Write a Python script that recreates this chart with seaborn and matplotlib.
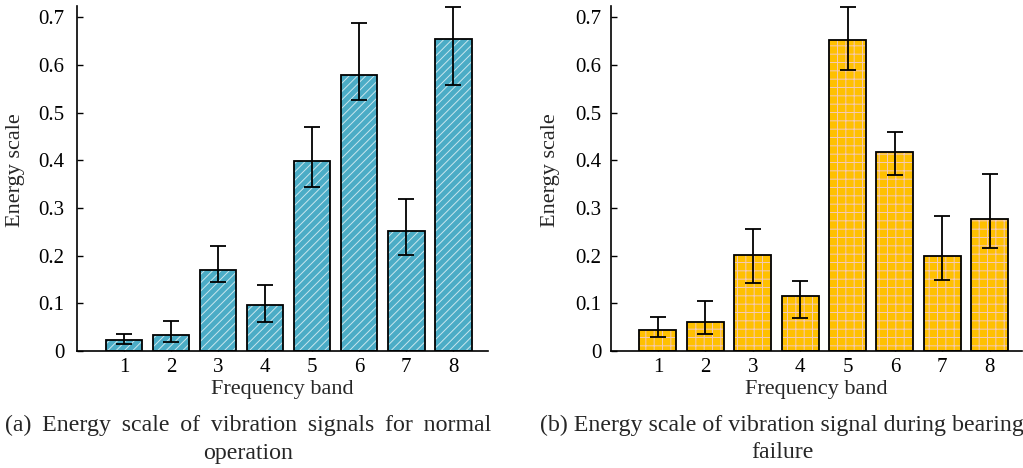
import numpy as np
import pandas as pd
import matplotlib
matplotlib.use("Agg")
import matplotlib.pyplot as plt
import seaborn as sns

bands = ["1", "2", "3", "4", "5", "6", "7", "8"]

normal_vals = [0.024, 0.034, 0.170, 0.097, 0.399, 0.579, 0.251, 0.654]
normal_lo = [0.014, 0.018, 0.144, 0.061, 0.344, 0.526, 0.201, 0.558]
normal_hi = [0.035, 0.062, 0.220, 0.138, 0.471, 0.689, 0.318, 0.722]

fault_vals = [0.044, 0.061, 0.202, 0.116, 0.652, 0.417, 0.199, 0.277]
fault_lo = [0.030, 0.035, 0.142, 0.070, 0.590, 0.369, 0.150, 0.217]
fault_hi = [0.072, 0.104, 0.255, 0.147, 0.722, 0.459, 0.284, 0.372]

ytick_vals = [0, 0.1, 0.2, 0.3, 0.4, 0.5, 0.6, 0.7]
ytick_labels = ["0", "0.1", "0.2", "0.3", "0.4", "0.5", "0.6", "0.7"]

captions = [
    ("(a) Energy scale of vibration signals for normal", "operation"),
    ("(b) Energy scale of vibration signal during bearing", "failure"),
]

sns.set_style("ticks")
plt.rcParams["font.family"] = ["Liberation Serif", "DejaVu Serif"]
plt.rcParams["hatch.linewidth"] = 0.7

fig = plt.figure(figsize=(10.23, 4.68), dpi=100)
W, H = 1023, 468
ax1 = fig.add_axes([77 / W, 1 - 351 / H, 411 / W, 345 / H])
ax2 = fig.add_axes([611 / W, 1 - 351 / H, 411 / W, 345 / H])


def draw(ax, vals, lo, hi, color, hatch, hatchcolor, xlim, ypad, ylab_x):
    df = pd.DataFrame({"band": bands, "val": vals})
    sns.barplot(data=df, x="band", y="val", ax=ax, color=color, width=0.78,
                saturation=1, edgecolor=hatchcolor, linewidth=0, hatch=hatch,
                errorbar=None, zorder=2)
    sns.barplot(data=df, x="band", y="val", ax=ax, fill=False, width=0.78,
                edgecolor="black", linewidth=1.3, errorbar=None, zorder=3)
    x = np.arange(len(bands))
    v = np.array(vals)
    yerr = [v - np.array(lo), np.array(hi) - v]
    ax.errorbar(x, v, yerr=yerr, fmt="none", ecolor="black", elinewidth=1.3,
                capsize=5.5, capthick=1.3, zorder=4)
    ax.set_xlim(*xlim)
    ax.set_ylim(0, 0.724)
    ax.set_yticks(ytick_vals)
    ax.set_yticklabels(ytick_labels)
    ax.tick_params(direction="in", length=4, width=1, labelsize=15,
                   colors="black")
    ax.tick_params(axis="y", pad=ypad)
    ax.tick_params(axis="x", pad=5)
    for s in ["top", "right"]:
        ax.spines[s].set_visible(False)
    for s in ["left", "bottom"]:
        ax.spines[s].set_linewidth(1.2)
        ax.spines[s].set_color("black")
    ax.set_xlabel("Frequency band", fontsize=16, labelpad=2)
    ax.set_ylabel("Energy scale", fontsize=16)
    ax.yaxis.set_label_coords(ylab_x, 0.525)


draw(ax1, normal_vals, normal_lo, normal_hi, "#4BACC6", "////", "#C9E6EE",
     (-1.0, 7.74), 9, -0.127)
draw(ax2, fault_vals, fault_lo, fault_hi, "#FFC000", "++", "#F3C9B8",
     (-0.99, 7.68), 7, -0.124)

for cx, (l1, l2), extra in zip([248, 782], captions, [" \u2009", " "]):
    fig.text(cx / W, 1 - 425 / H, l1.replace(" ", extra), ha="center",
             va="center", fontsize=17.2)
    fig.text(cx / W, 1 - 453 / H, l2, ha="center", va="center", fontsize=17.2)

fig.savefig("out.png", dpi=100)
